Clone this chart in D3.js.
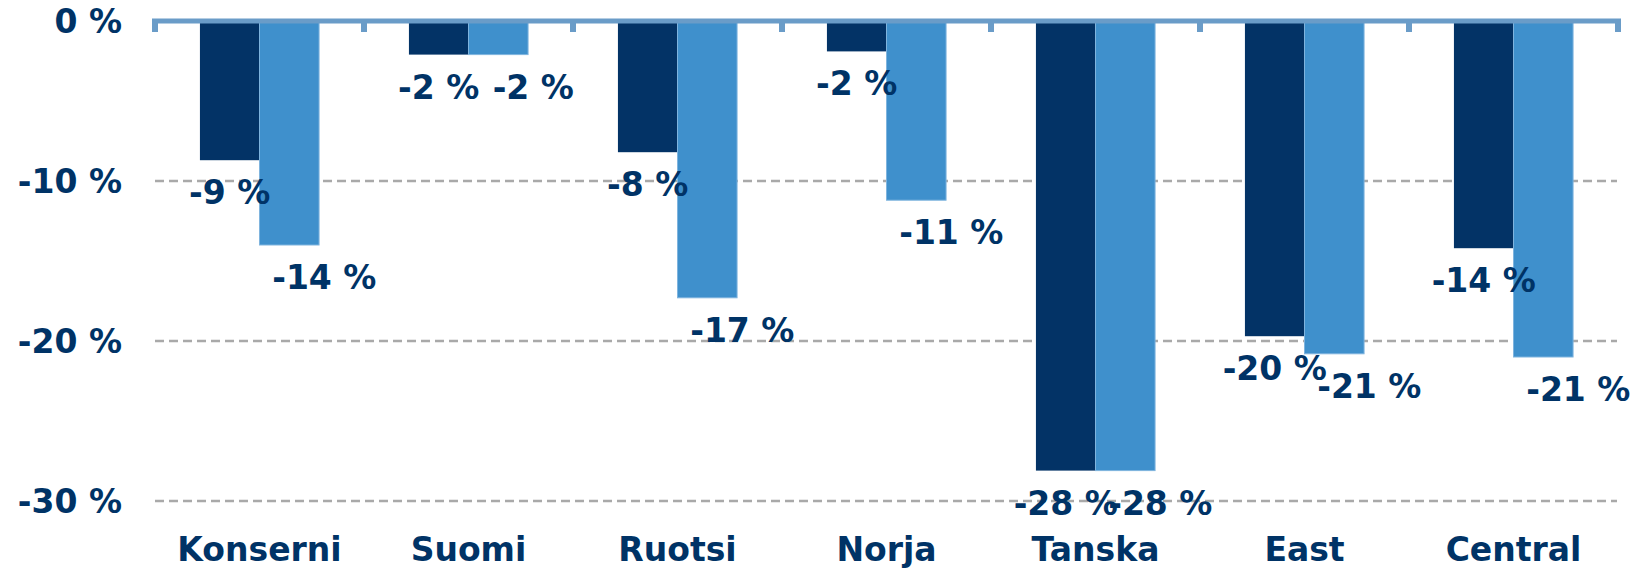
<!DOCTYPE html>
<html>

<head>
  <title>Change by region</title>
  <style>
    body { margin: 0; background: #fff; }
    text { font-family: Verdana, "DejaVu Sans", sans-serif; font-weight: bold; fill: #003366; }
  </style>
</head>

<body>
  <svg id="chart"></svg>

  <script src="https://d3js.org/d3.v7.min.js"></script>
  <script>
    // values
    const categories = ["Konserni", "Suomi", "Ruotsi", "Norja", "Tanska", "East", "Central"];
    const seriesA = [-8.7, -2.1, -8.2, -1.9, -28.1, -19.7, -14.2];
    const seriesB = [-14.0, -2.1, -17.3, -11.2, -28.1, -20.8, -21.0];
    const labelsA = ["-9 %", "-2 %", "-8 %", "-2 %", "-28 %", "-20 %", "-14 %"];
    const labelsB = ["-14 %", "-2 %", "-17 %", "-11 %", "-28 %", "-21 %", "-21 %"];
    const yTicks = [0, -10, -20, -30];

    const width = 1640, height = 571;
    const colA = "#033366", colB = "#3f90cc";
    const fontSize = "33px";

    const svg = d3.select("#chart").attr("width", width).attr("height", height);

    const x0 = d3.scaleBand().domain(categories).range([155, 1618]).paddingInner(0.43).paddingOuter(0.215);
    const x1 = d3.scaleBand().domain(["a", "b"]).range([0, x0.bandwidth()]);
    const y = d3.scaleLinear().domain([-30, 0]).range([501, 21]);

    // gridlines
    svg.append("g")
      .selectAll("line")
      .data(yTicks.filter(d => d !== 0))
      .join("line")
      .attr("x1", 155).attr("x2", 1617)
      .attr("y1", d => y(d)).attr("y2", d => y(d))
      .attr("stroke", "#a9a9a9")
      .attr("stroke-width", 2.5)
      .attr("stroke-dasharray", "9,5");

    // y tick labels
    svg.append("g")
      .selectAll("text")
      .data(yTicks)
      .join("text")
      .attr("x", 122)
      .attr("y", d => y(d))
      .attr("dy", "0.36em")
      .attr("text-anchor", "end")
      .style("font-size", fontSize)
      .text(d => d + " %");

    const rows = categories.map((c, i) => ({ cat: c, a: seriesA[i], b: seriesB[i], la: labelsA[i], lb: labelsB[i] }));

    const groups = svg.append("g")
      .selectAll("g")
      .data(rows)
      .join("g")
      .attr("transform", d => `translate(${x0(d.cat)},0)`);

    groups.append("rect")
      .attr("x", x1("a"))
      .attr("y", y(0))
      .attr("width", x1.bandwidth())
      .attr("height", d => y(d.a) - y(0))
      .attr("fill", colA);

    groups.append("rect")
      .attr("x", x1("b"))
      .attr("y", y(0))
      .attr("width", x1.bandwidth())
      .attr("height", d => y(d.b) - y(0))
      .attr("fill", colB)
      .attr("stroke", "#7fb4de")
      .attr("stroke-width", 1);

    // data labels
    groups.append("text")
      .attr("x", x1("a") + x1.bandwidth() / 2)
      .attr("y", d => y(d.a) + 44)
      .attr("text-anchor", "middle")
      .style("font-size", fontSize)
      .text(d => d.la);

    groups.append("text")
      .attr("x", x1("b") + x1.bandwidth() / 2 + 35)
      .attr("y", d => y(d.b) + 44)
      .attr("text-anchor", "middle")
      .style("font-size", fontSize)
      .text(d => d.lb);

    // category axis at zero
    const axis = svg.append("g");
    const step = x0.step();
    axis.selectAll("line.tick")
      .data(d3.range(categories.length + 1))
      .join("line")
      .attr("class", "tick")
      .attr("x1", i => 155 + i * step).attr("x2", i => 155 + i * step)
      .attr("y1", y(0)).attr("y2", y(0) + 11)
      .attr("stroke", "#6a9cc8")
      .attr("stroke-width", 6);
    axis.append("line")
      .attr("x1", 152).attr("x2", 1621)
      .attr("y1", y(0)).attr("y2", y(0))
      .attr("stroke", "#6a9cc8")
      .attr("stroke-width", 5);

    // category labels
    svg.append("g")
      .selectAll("text")
      .data(categories)
      .join("text")
      .attr("x", d => x0(d) + x0.bandwidth() / 2)
      .attr("y", 561)
      .attr("text-anchor", "middle")
      .style("font-size", fontSize)
      .text(d => d);
  </script>
</body>

</html>
